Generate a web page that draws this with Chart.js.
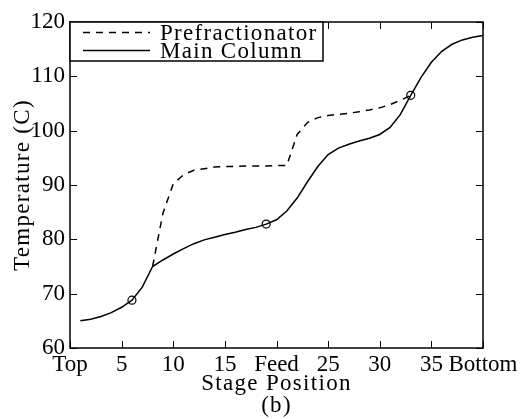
<!DOCTYPE html>
<html>
<head>
<meta charset="utf-8">
<script src="https://cdn.jsdelivr.net/npm/chart.js@4/dist/chart.umd.min.js"></script>
<style>
  html, body { margin: 0; padding: 0; background: #fff; }
  #wrap { width: 527px; height: 419px; position: relative; }
</style>
</head>
<body>
<div id="wrap"><canvas id="chart"></canvas></div>
<script>
// stage numbers and temperatures
var mainStages = [1, 2, 3, 4, 5, 6, 7, 8, 9, 10, 11, 12, 13, 14, 15, 16, 17, 18, 19, 20,
  21, 22, 23, 24, 25, 26, 27, 28, 29, 30, 31, 32, 33, 34, 35, 36, 37, 38, 39, 40];
var mainTemps = [65.0, 65.3, 65.8, 66.5, 67.5, 68.8, 71.2, 75.0, 76.2, 77.3, 78.3, 79.2, 79.9, 80.4, 80.9, 81.3, 81.8, 82.2, 82.8, 83.6,
  85.2, 87.6, 90.6, 93.4, 95.6, 96.8, 97.5, 98.1, 98.6, 99.3, 100.6, 103.0, 106.5, 109.8, 112.6, 114.6, 115.9, 116.7, 117.2, 117.5];

var preStages = [8, 9, 10, 11, 12, 13, 14, 15, 16, 17, 18, 19, 20, 21, 22, 23, 24, 25, 26, 27, 28, 29, 30, 31, 32, 33];
var preTemps = [75.0, 84.8, 90.2, 91.9, 92.7, 93.0, 93.3, 93.4, 93.4, 93.5, 93.5, 93.5, 93.6, 93.6,
  99.3, 101.5, 102.4, 102.8, 103.0, 103.2, 103.5, 103.8, 104.2, 104.8, 105.6, 106.5];

// side-draw / feed stages marked with circles
var markerStages = [6, 19, 33];

var xTickValues = [0, 5, 10, 15, 20, 25, 30, 35, 40];
var xTickLabels = ['Top', '5', '10', '15', 'Feed', '25', '30', '35', 'Bottom'];
var yTickValues = [60, 70, 80, 90, 100, 110, 120];

var seriesNames = ['Prefractionator', 'Main Column'];

function pts(xs, ys) {
  return xs.map(function (x, i) { return { x: x, y: ys[i] }; });
}

var FONT = "'Liberation Serif', 'Times New Roman', serif";

// box, inward ticks, legend and titles in the MATLAB look
var framePlugin = {
  id: 'frame',
  afterDraw: function (chart) {
    var ctx = chart.ctx;
    var a = chart.chartArea;
    var xs = chart.scales.x, ys = chart.scales.y;
    var tl = 7;
    ctx.save();
    ctx.strokeStyle = '#000';
    ctx.lineWidth = 1.5;
    ctx.strokeRect(a.left, a.top, a.right - a.left, a.bottom - a.top);
    ctx.lineWidth = 1;
    ctx.beginPath();
    xTickValues.forEach(function (v) {
      var px = Math.round(xs.getPixelForValue(v)) + 0.5;
      ctx.moveTo(px, a.bottom); ctx.lineTo(px, a.bottom - tl);
      ctx.moveTo(px, a.top); ctx.lineTo(px, a.top + tl);
    });
    yTickValues.forEach(function (v) {
      var py = Math.round(ys.getPixelForValue(v)) + 0.5;
      ctx.moveTo(a.left, py); ctx.lineTo(a.left + tl, py);
      ctx.moveTo(a.right, py); ctx.lineTo(a.right - tl, py);
    });
    ctx.stroke();

    // legend
    var lx = a.left, ly = a.top, lw = 253, lh = 39;
    ctx.fillStyle = '#fff';
    ctx.fillRect(lx, ly, lw, lh);
    ctx.lineWidth = 1.5;
    ctx.strokeRect(lx, ly, lw, lh);
    ctx.font = '23px ' + FONT;
    ctx.letterSpacing = '1.3px';
    ctx.fillStyle = '#000';
    ctx.textBaseline = 'alphabetic';
    ctx.textAlign = 'left';
    var rows = [ly + 10.5, ly + 28.5];
    chart.data.datasets.slice(0, 2).forEach(function (ds, i) {
      ctx.beginPath();
      ctx.setLineDash(ds.borderDash || []);
      ctx.lineWidth = 1.5;
      ctx.moveTo(lx + 13, rows[i]);
      ctx.lineTo(lx + 80, rows[i]);
      ctx.stroke();
      ctx.setLineDash([]);
      ctx.fillText(ds.label, lx + 90, rows[i] + 7);
    });

    // axis titles and caption
    var cx = (a.left + a.right) / 2;
    ctx.textAlign = 'center';
    ctx.fillText('Stage Position', cx, 390);
    ctx.fillText('(b)', cx, 412);
    ctx.translate(29, (a.top + a.bottom) / 2);
    ctx.rotate(-Math.PI / 2);
    ctx.fillText('Temperature (C)', 0, 0);
    ctx.restore();
  }
};

new Chart(document.getElementById('chart'), {
  type: 'line',
  data: {
    datasets: [{
      label: seriesNames[0],
      data: pts(preStages, preTemps),
      borderColor: '#000',
      borderWidth: 1.5,
      borderDash: [7, 6],
      pointRadius: 0,
      tension: 0,
      fill: false
    }, {
      label: seriesNames[1],
      data: pts(mainStages, mainTemps),
      borderColor: '#000',
      borderWidth: 1.5,
      pointRadius: 0,
      tension: 0,
      fill: false
    }, {
      type: 'scatter',
      label: 'markers',
      data: markerStages.map(function (s) {
        return { x: s, y: mainTemps[mainStages.indexOf(s)] };
      }),
      borderColor: '#000',
      backgroundColor: 'rgba(0,0,0,0)',
      borderWidth: 1.2,
      pointRadius: 4,
      showLine: false
    }]
  },
  options: {
    responsive: true,
    maintainAspectRatio: false,
    animation: false,
    events: [],
    layout: { padding: { top: 22, right: 44, left: 0, bottom: 0 } },
    plugins: { legend: { display: false }, tooltip: { enabled: false } },
    scales: {
      x: {
        type: 'linear',
        min: 0,
        max: 40,
        afterFit: function (s) { s.height = 71; },
        afterBuildTicks: function (s) {
          s.ticks = xTickValues.map(function (v) { return { value: v }; });
        },
        grid: { display: false, drawTicks: false },
        border: { display: false },
        ticks: {
          autoSkip: false,
          maxRotation: 0,
          padding: 3,
          color: '#000',
          font: { family: FONT, size: 23 },
          callback: function (v) {
            var i = xTickValues.indexOf(v);
            return i >= 0 ? xTickLabels[i] : '';
          }
        }
      },
      y: {
        min: 60,
        max: 120,
        afterFit: function (s) { s.width = 70; },
        afterBuildTicks: function (s) {
          s.ticks = yTickValues.map(function (v) { return { value: v }; });
        },
        grid: { display: false, drawTicks: false },
        border: { display: false },
        ticks: {
          padding: 5,
          color: '#000',
          font: { family: FONT, size: 23 }
        }
      }
    }
  },
  plugins: [framePlugin]
});
</script>
</body>
</html>
